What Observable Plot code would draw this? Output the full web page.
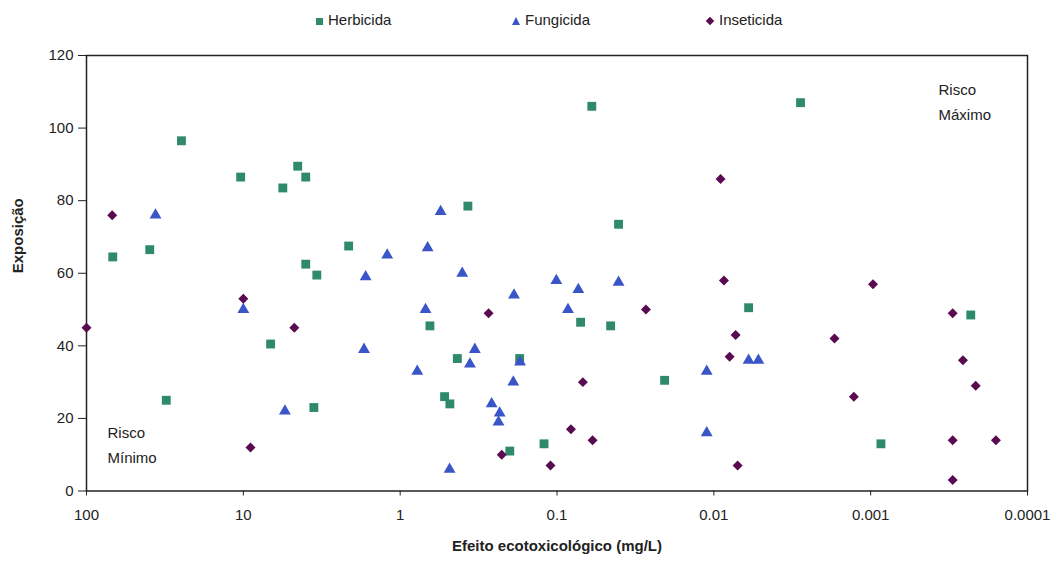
<!DOCTYPE html>
<html>
<head>
<meta charset="utf-8">
<script src="https://cdn.jsdelivr.net/npm/d3@7"></script>
<script src="https://cdn.jsdelivr.net/npm/@observablehq/plot@0.6"></script>
<style>
  html, body { margin: 0; padding: 0; background: #fff; }
  body { width: 1054px; height: 567px; overflow: hidden; font-family: "Liberation Sans", Arial, sans-serif; }
  #legend { position: relative; height: 40px; width: 1054px; font-size: 15px; color: #222; }
  .item { position: absolute; top: 11px; line-height: 18px; white-space: nowrap; }
  .sw { display: inline-block; vertical-align: middle; margin-right: 5px; }
  .sq { width: 7px; height: 7px; background: #2e8a68; }
  .tri { width: 0; height: 0; border-left: 4px solid transparent; border-right: 4px solid transparent; border-bottom: 8px solid #3a55c8; }
  .dia { width: 6px; height: 6px; background: #5a0a50; transform: rotate(45deg); margin-right: 6px; }
</style>
</head>
<body>
<div id="legend"></div>
<div id="chart"></div>
<script>
// ---- data ----
const seriesNames = ["Herbicida", "Fungicida", "Inseticida"];
const seriesColors = ["#2e8a68", "#3a55c8", "#5a0a50"];

const herbX = [24.8, 10.4, 5.6, 4.5, 4.0, 68, 39.5, 2.13, 4.0, 3.4, 0.06, 0.37, 0.0405, 0.0028, 6.7, 31, 3.55, 0.646, 0.0707, 0.0455, 0.432, 0.173, 0.0206, 0.521, 0.482, 0.121, 0.2, 0.006, 0.00023, 0.00086];
const herbY = [96.5, 86.5, 83.5, 89.5, 86.5, 64.5, 66.5, 67.5, 62.5, 59.5, 106, 78.5, 73.5, 107, 40.5, 25, 23, 45.5, 46.5, 45.5, 36.5, 36.5, 30.5, 26, 24, 13, 11, 50.5, 48.5, 13];

const fungX = [36.3, 1.21, 1.66, 10, 1.70, 5.43, 0.552, 0.668, 0.402, 0.101, 0.0731, 0.0405, 0.188, 0.689, 0.0851, 0.334, 0.359, 0.172, 0.778, 0.19, 0.0111, 0.261, 0.232, 0.236, 0.0111, 0.484, 0.006, 0.0052];
const fungY = [76, 65, 59, 50, 39, 22, 77, 67, 60, 58, 55.5, 57.5, 54, 50, 50, 39, 35, 35.5, 33, 30, 33, 24, 21.5, 19, 16, 6, 36, 36];

const insX = [68.6, 10, 100, 4.73, 9.0, 0.00906, 0.00862, 0.273, 0.0271, 0.0684, 0.0815, 0.0593, 0.225, 0.11, 0.000966, 0.0003, 0.00726, 0.0017, 0.00793, 0.000258, 0.000214, 0.00128, 0.0003, 0.000159, 0.00705, 0.0003];
const insY = [76, 53, 45, 45, 12, 86, 58, 49, 50, 30, 17, 14, 10, 7, 57, 49, 43, 42, 37, 36, 29, 26, 14, 14, 7, 3];

const xTicks = [100, 10, 1, 0.1, 0.01, 0.001, 0.0001];
const xTickLabels = ["100", "10", "1", "0.1", "0.01", "0.001", "0.0001"];
const yTicks = [0, 20, 40, 60, 80, 100, 120];

const xLabel = "Efeito ecotoxicológico (mg/L)";
const yLabel = "Exposição";
const noteMax = "Risco\nMáximo";
const noteMin = "Risco\nMínimo";

// ---- legend ----
const legend = document.getElementById("legend");
const legendLeft = [316, 512, 707];
const swClass = ["sq", "tri", "dia"];
seriesNames.forEach((name, i) => {
  const it = document.createElement("div");
  it.className = "item";
  it.style.left = legendLeft[i] + "px";
  const sw = document.createElement("span");
  sw.className = "sw " + swClass[i];
  it.appendChild(sw);
  it.appendChild(document.createTextNode(name));
  legend.appendChild(it);
});

// ---- chart ----
const toRows = (xs, ys) => xs.map((x, i) => ({x, y: ys[i]}));
const herb = toRows(herbX, herbY);
const fung = toRows(fungX, fungY);
const ins = toRows(insX, insY);

const labelFor = (d) => {
  let best = 0;
  xTicks.forEach((t, i) => { if (Math.abs(Math.log10(t) - Math.log10(d)) < Math.abs(Math.log10(xTicks[best]) - Math.log10(d))) best = i; });
  return xTickLabels[best];
};

const font = "Liberation Sans, Arial, sans-serif";

const chart = Plot.plot({
  width: 1054,
  height: 527,
  marginTop: 15,
  marginBottom: 76.5,
  marginLeft: 86,
  marginRight: 27,
  style: {fontFamily: font, fontSize: "15px", color: "#222", background: "#fff"},
  x: {type: "log", domain: [100, 0.0001]},
  y: {domain: [0, 120]},
  marks: [
    Plot.frame({stroke: "#222", strokeWidth: 1.5}),
    Plot.axisX({ticks: xTicks, tickFormat: labelFor, tickSize: 5, tickPadding: 13, label: null, fontSize: 15, stroke: "#222"}),
    Plot.axisY({ticks: yTicks, tickSize: 8, tickPadding: 5, label: null, fontSize: 15, stroke: "#222"}),
    Plot.text([xLabel], {frameAnchor: "bottom", dy: 60, fontWeight: "bold", fontSize: 15, fill: "#222"}),
    Plot.text([yLabel], {frameAnchor: "left", dx: -68, rotate: -90, fontWeight: "bold", fontSize: 15, fill: "#222"}),
    Plot.text([noteMax], {frameAnchor: "top-right", dx: -89, dy: 22, textAnchor: "start", lineAnchor: "top", lineHeight: 1.65, fontSize: 15, fill: "#222"}),
    Plot.text([noteMin], {frameAnchor: "bottom-left", dx: 21, dy: -28, textAnchor: "start", lineAnchor: "bottom", lineHeight: 1.65, fontSize: 15, fill: "#222"}),
    Plot.dot(herb, {x: "x", y: "y", symbol: "square", r: 5, fill: seriesColors[0], stroke: "none"}),
    Plot.dot(fung, {x: "x", y: "y", symbol: "triangle", r: 4.4, fill: seriesColors[1], stroke: "none"}),
    Plot.dot(ins, {x: "x", y: "y", symbol: "diamond2", r: 4.5, fill: seriesColors[2], stroke: "none"})
  ]
});
document.getElementById("chart").appendChild(chart);
</script>
</body>
</html>
